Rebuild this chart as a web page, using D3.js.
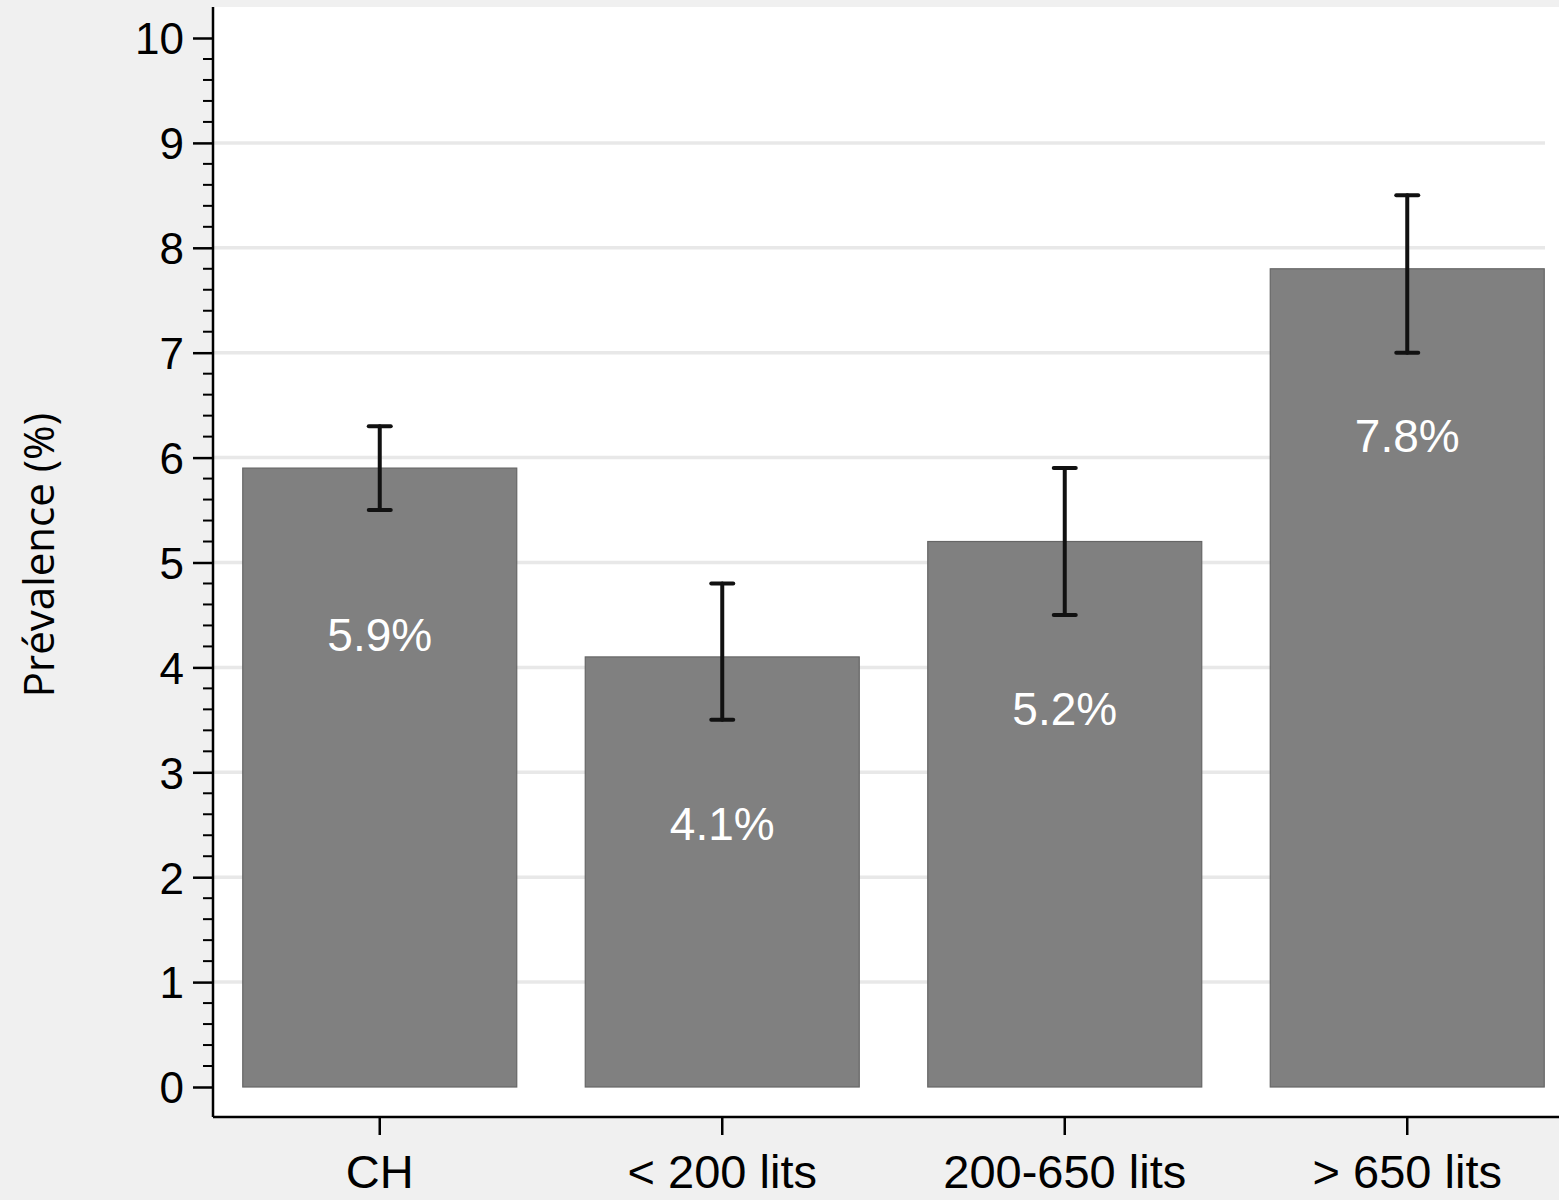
<!DOCTYPE html>
<html>
<head>
<meta charset="utf-8">
<script src="https://cdn.jsdelivr.net/npm/d3@7"></script>
<style>
html,body{margin:0;padding:0;background:#f0f0f0;}
svg{display:block;}
</style>
</head>
<body>
<svg id="chart" width="1559" height="1200"></svg>
<script>
const categories = ["CH", "< 200 lits", "200-650 lits", "> 650 lits"];
const values = [5.9, 4.1, 5.2, 7.8];
const ciLow = [5.5, 3.5, 4.5, 7.0];
const ciHigh = [6.3, 4.8, 5.9, 8.5];
const valueLabels = ["5.9%", "4.1%", "5.2%", "7.8%"];
const yTicks = [0,1,2,3,4,5,6,7,8,9,10];
const yTitle = "Prévalence (%)";

const svg = d3.select("#chart");
const W = 1559, H = 1200;
const plotLeft = 213, plotTop = 7, plotRight = 1559, plotBottom = 1117;

svg.append("rect").attr("width", W).attr("height", H).attr("fill", "#f0f0f0");
svg.append("rect").attr("x", plotLeft).attr("y", plotTop)
  .attr("width", plotRight - plotLeft).attr("height", plotBottom - plotTop).attr("fill", "#ffffff");

const y = d3.scaleLinear().domain([0, 10]).range([1087, 38]);
const x = d3.scaleBand().domain(categories).range([208.5, 1578.5]).paddingInner(0.2).paddingOuter(0.1);

// gridlines (not at 0 or 10)
svg.append("g").selectAll("line").data(yTicks.filter(d => d > 0 && d < 10)).join("line")
  .attr("x1", plotLeft).attr("x2", 1545)
  .attr("y1", d => y(d)).attr("y2", d => y(d))
  .attr("stroke", "#e8e8e8").attr("stroke-width", 3.5);

// bars
svg.append("g").selectAll("rect").data(values).join("rect")
  .attr("x", (d, i) => x(categories[i]))
  .attr("width", x.bandwidth())
  .attr("y", d => y(d))
  .attr("height", d => y(0) - y(d))
  .attr("fill", "#808080").attr("stroke", "#666666").attr("stroke-width", 1.2);

// error bars
const eb = svg.append("g").attr("stroke", "#111111").attr("stroke-width", 4).attr("stroke-linecap", "round");
categories.forEach((c, i) => {
  const cx = x(c) + x.bandwidth() / 2;
  eb.append("line").attr("x1", cx).attr("x2", cx).attr("y1", y(ciLow[i])).attr("y2", y(ciHigh[i]));
  [ciLow[i], ciHigh[i]].forEach(v => {
    eb.append("line").attr("x1", cx - 11).attr("x2", cx + 11).attr("y1", y(v)).attr("y2", y(v));
  });
});

// value labels
svg.append("g").selectAll("text").data(valueLabels).join("text")
  .attr("x", (d, i) => x(categories[i]) + x.bandwidth() / 2)
  .attr("y", (d, i) => y(values[i]) + 183)
  .attr("text-anchor", "middle")
  .attr("font-family", "'Liberation Sans', Arial, sans-serif")
  .attr("font-size", 46).attr("fill", "#ffffff")
  .text(d => d);

// y axis
const yAxisG = svg.append("g").attr("transform", `translate(${plotLeft},0)`);
yAxisG.append("line").attr("x1", 0).attr("x2", 0).attr("y1", plotTop).attr("y2", plotBottom)
  .attr("stroke", "#000").attr("stroke-width", 2.5);
const minor = d3.range(0, 10.001, 0.2).filter(v => Math.abs(v - Math.round(v)) > 1e-6);
yAxisG.selectAll("line.minor").data(minor).join("line").attr("class", "minor")
  .attr("x1", -10).attr("x2", 0).attr("y1", d => y(d)).attr("y2", d => y(d))
  .attr("stroke", "#000").attr("stroke-width", 2);
const yAxis = d3.axisLeft(y).tickValues(yTicks).tickSize(20).tickPadding(9).tickFormat(d3.format("d"));
const ya = yAxisG.append("g").call(yAxis);
ya.select(".domain").remove();
ya.selectAll(".tick line").attr("stroke", "#000").attr("stroke-width", 2.5);
ya.selectAll(".tick text").attr("font-family", "'Liberation Sans', Arial, sans-serif")
  .attr("font-size", 44).attr("fill", "#000").attr("dy", "0.36em");

// x axis
const xAxisG = svg.append("g").attr("transform", `translate(0,${plotBottom})`);
xAxisG.append("line").attr("x1", plotLeft).attr("x2", plotRight).attr("y1", 0).attr("y2", 0)
  .attr("stroke", "#000").attr("stroke-width", 2.5);
const xAxis = d3.axisBottom(x).tickSize(18).tickPadding(20);
const xa = xAxisG.append("g").call(xAxis);
xa.select(".domain").remove();
xa.selectAll(".tick line").attr("stroke", "#000").attr("stroke-width", 2.5);
xa.selectAll(".tick text").attr("font-family", "'Liberation Sans', Arial, sans-serif")
  .attr("font-size", 47).attr("fill", "#000").attr("dy", "0.71em");

// y title
svg.append("text")
  .attr("transform", `translate(54,555) rotate(-90)`)
  .attr("text-anchor", "middle")
  .attr("font-family", "'Open Sans', 'Noto Sans', sans-serif")
  .attr("font-size", 42).attr("fill", "#000")
  .text(yTitle);
</script>
</body>
</html>
